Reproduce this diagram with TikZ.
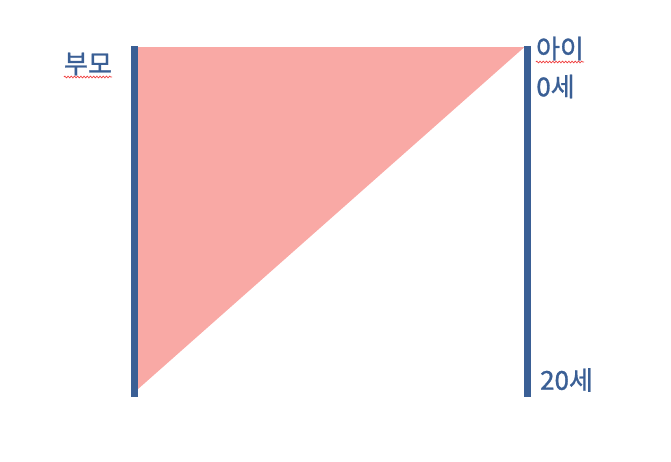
\documentclass[tikz,border=0pt]{standalone}
\usepackage{fontspec}
\newfontfamily\krfont[FakeBold=1.2]{Noto Sans CJK KR}
\usetikzlibrary{decorations.pathmorphing,calc}
\definecolor{barblue}{HTML}{3A5F95}
\definecolor{pinkfill}{HTML}{F9A9A5}
\definecolor{wavered}{HTML}{F04040}
\tikzset{
  bar/.style={draw=barblue, line width=6.5pt},
  lbl/.style={text=barblue, font=\krfont\fontsize{26}{30}\selectfont, inner sep=0pt},
  spell/.style={draw=wavered, line width=0.7pt, decorate, decoration={snake, amplitude=0.9pt, segment length=3.2pt}}
}
\begin{document}
\begin{tikzpicture}[x=1pt,y=-1pt]
\useasboundingbox (0,0) rectangle (671,461);
\coordinate (LT) at (134.3,46);
\coordinate (LB) at (134.3,396.5);
\coordinate (RT) at (527.5,46);
\coordinate (RB) at (527.5,396.5);
\coordinate (TL) at (137.5,47);
\coordinate (TR) at (524.5,47);
\coordinate (TB) at (137.5,389.5);
\fill[pinkfill] (TL) -- (TR) -- (TB) -- cycle;
\draw[bar] (LT) -- (LB);
\draw[bar] (RT) -- (RB);
\node[lbl] (parent) at (88,64) {부모};
\node[lbl] (child) at (560,48.5) {아이};
\node[lbl] (age0) at (555.5,86.5) {0세};
\node[lbl] (age20) at (566.5,380) {20세};
\draw[spell] ($(parent.west)+(0,13)$) -- ($(parent.east)+(0,13)$);
\draw[spell] ($(child.west)+(0,13.5)$) -- ($(child.east)+(0,13.5)$);
\end{tikzpicture}
\end{document}
